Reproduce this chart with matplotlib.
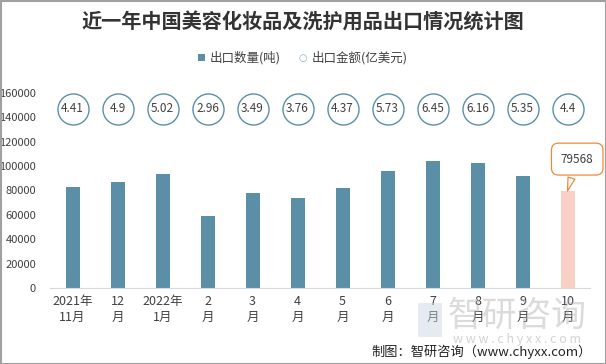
import matplotlib
matplotlib.use("Agg")
import matplotlib.pyplot as plt
from matplotlib.patches import Rectangle
import matplotlib.transforms as mtransforms

plt.rcParams['font.family'] = ['Noto Sans CJK SC', 'DejaVu Sans']

categories = ["2021年\n11月", "12\n月", "2022年\n1月", "2\n月", "3\n月", "4\n月",
              "5\n月", "6\n月", "7\n月", "8\n月", "9\n月", "10\n月"]
quantity = [83100, 87200, 93800, 58800, 77600, 73500, 81700, 95600, 104400, 102800, 92100, 79568]
amount = [4.41, 4.9, 5.02, 2.96, 3.49, 3.76, 4.37, 5.73, 6.45, 6.16, 5.35, 4.4]
yticks = [0, 20000, 40000, 60000, 80000, 100000, 120000, 140000, 160000]

W, H = 606, 364
fig = plt.figure(figsize=(W / 100, H / 100), dpi=100)
ax = fig.add_axes([50 / W, (H - 288) / H, 540 / W, (288 - 93) / H])

bar_color = "#5b8fa8"
last_color = "#f8d0c6"
colors = [bar_color] * (len(quantity) - 1) + [last_color]
x = list(range(len(categories)))
ax.bar(x, quantity, width=14 / 45, color=colors, zorder=2)

ax.set_xlim(-0.5, len(categories) - 0.5)
ax.set_ylim(0, 160000)
ax.set_yticks(yticks)
ax.set_yticklabels([str(v) for v in yticks], fontsize=8, color="#404040")
ax.set_xticks(x)
ax.set_xticklabels(categories, fontsize=9, color="#404040", linespacing=1.3)
ax.tick_params(axis='both', length=0)
ax.tick_params(axis='x', pad=5)
ax.tick_params(axis='y', pad=10)
for s in ["left", "right", "top"]:
    ax.spines[s].set_visible(False)
ax.spines["bottom"].set_color("#d9d9d9")

# amount circles (fixed row near top of plot area)
trans = mtransforms.blended_transform_factory(ax.transData, ax.transAxes)
circ_y = (288 - 109) / (288 - 93)
ax.scatter(x, [circ_y] * len(x), s=500, facecolor="white", edgecolor="#5b8fa8",
           linewidth=1.0, transform=trans, zorder=3, clip_on=False)
for xi, v in zip(x, amount):
    ax.text(xi, circ_y, f"{v:g}", transform=trans, ha="center", va="center",
            fontsize=8.5, color="#404040", zorder=4)

# callout for last bar
ax.annotate(f"{quantity[-1]}", xy=(x[-1], quantity[-1]), xytext=(7, 23),
            textcoords="offset points", ha="center", va="center", fontsize=8.5,
            color="#404040", annotation_clip=False,
            bbox=dict(boxstyle="round,pad=0.8,rounding_size=0.6", fc="white", ec="#ed8a3a", lw=0.9),
            arrowprops=dict(arrowstyle="wedge,tail_width=0.6,shrink_factor=0.5", fc="white",
                            ec="#ed8a3a", lw=0.9, shrinkB=0))

# title
fig.text(0.5, 1 - 22 / H, "近一年中国美容化妆品及洗护用品出口情况统计图", ha="center", va="center",
         fontsize=14.5, fontweight="bold", color="#333333")

# legend
fig.patches.append(Rectangle((198 / W, 1 - 61 / H), 7 / W, 7 / H, transform=fig.transFigure,
                             facecolor=bar_color, edgecolor="none"))
fig.text(210 / W, 1 - 57.5 / H, "出口数量(吨)", ha="left", va="center", fontsize=9, color="#404040")
fig.text(303 / W, 1 - 57.5 / H, "○", ha="center", va="center", fontsize=7, color="#8fb0c0",
         family=["DejaVu Sans"])
fig.text(312 / W, 1 - 57.5 / H, "出口金额(亿美元)", ha="left", va="center", fontsize=9, color="#404040")

# watermark
fig.patches.append(Rectangle((418 / W, 1 - 337 / H), 24 / W, 34 / H, transform=fig.transFigure,
                             facecolor="#c8d4e4", edgecolor="none", alpha=0.45))
fig.text(517 / W, 1 - 316 / H, "智研咨询", ha="center", va="center", fontsize=25,
         color="#b0b0b0", alpha=0.45)
fig.text(517 / W, 1 - 339 / H, "w w w . c h y x x . c o m", ha="center", va="center", fontsize=9,
         color="#b0b0b0", alpha=0.55)

# source
fig.text(592 / W, 1 - 352 / H, "制图：智研咨询（www.chyxx.com）", ha="right", va="center",
         fontsize=9.5, color="#222222")

# border
fig.patches.append(Rectangle((0.5 / W, 0.5 / H), (W - 1) / W, (H - 1) / H, transform=fig.transFigure,
                             facecolor="none", edgecolor="#a0a0a0", lw=1.5))

fig.savefig("out.png", dpi=100)
